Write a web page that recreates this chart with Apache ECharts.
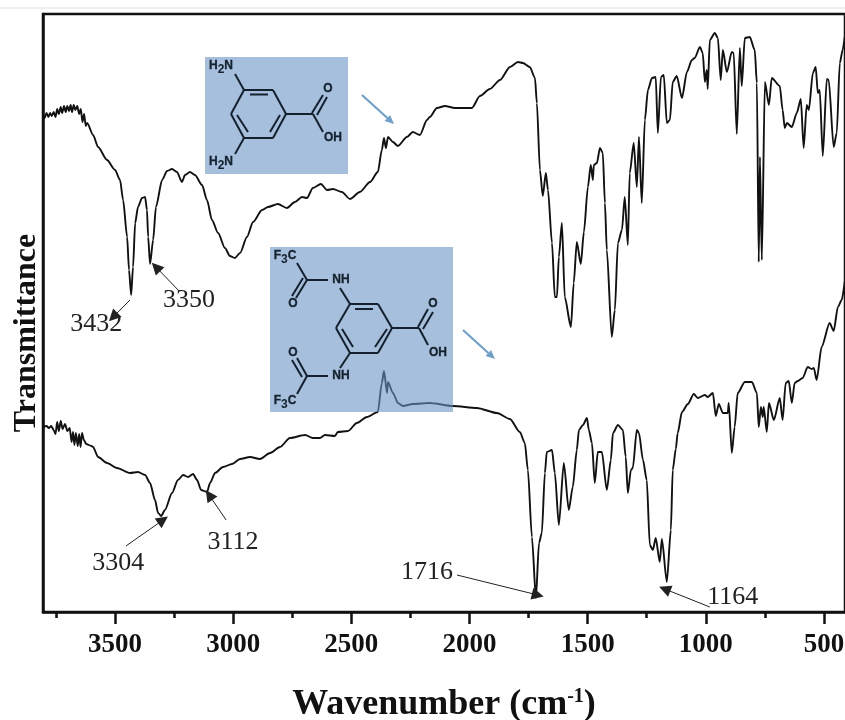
<!DOCTYPE html>
<html><head><meta charset="utf-8">
<style>html,body{margin:0;padding:0;background:#fff}#c{width:845px;height:720px}</style>
<script src="https://cdn.jsdelivr.net/npm/echarts@6/dist/echarts.min.js"></script>
</head><body><div id="c"></div>
<script>
// Wavenumber (cm-1) and relative transmittance
const topWave = [3805,3798,3790,3782,3775,3768,3760,3752,3745,3738,3730,3724,3716,3709,3702,3695,3688,3682,3675,3668,3660,3652,3645,3638,3631,3624,3618,3593,3572,3534,3500,3479,3466,3449,3441,3432,3424,3415,3403,3386,3373,3365,3360,3352,3339,3327,3301,3280,3259,3238,3217,3204,3183,3162,3132,3111,3090,3064,3035,3014,2993,2971,2942,2916,2878,2853,2811,2773,2739,2709,2688,2663,2629,2603,2578,2540,2506,2464,2421,2388,2371,2362,2354,2345,2324,2303,2265,2240,2210,2180,2168,2138,2104,2062,1990,1956,1914,1871,1829,1795,1774,1745,1723,1715,1702,1690,1677,1668,1651,1639,1630,1622,1609,1597,1571,1559,1546,1529,1516,1499,1487,1478,1474,1461,1448,1436,1427,1419,1398,1385,1372,1355,1343,1330,1322,1305,1292,1283,1271,1258,1245,1228,1212,1203,1190,1178,1165,1152,1140,1123,1101,1080,1059,1047,1025,1013,1004,996,992,983,962,949,937,928,911,890,882,869,856,848,835,814,793,784,776,771,763,750,733,721,687,675,666,657,636,615,598,586,573,564,547,535,526,518,505,488,480,459,446,433,421,411];
const topT = [498,494,499,495,499,496,500,495,503,498,505,499,506,500,506,501,507,500,507,502,506,498,503,490,498,486,489,477,465,452,442,432,412,375,342,317,345,389,405,414,415,402,375,348,372,405,432,441,443,440,430,437,440,437,427,412,392,379,364,356,354,359,375,390,402,405,408,404,410,415,414,424,428,422,423,420,413,420,430,440,462,474,464,475,470,466,475,480,477,492,495,504,506,504,504,516,523,532,545,550,549,545,534,509,442,416,439,422,369,315,315,355,389,315,285,329,370,348,380,425,447,432,447,449,464,459,409,362,275,302,369,382,415,367,439,469,425,475,409,492,522,534,535,479,535,537,489,492,530,536,514,540,552,554,565,559,530,542,523,572,579,574,532,562,540,560,559,478,564,526,574,575,562,529,350,455,352,530,507,534,526,502,484,489,485,499,513,464,507,502,539,545,519,522,456,533,532,465,479,549,562,577];
const bottomWave = [3805,3790,3780,3770,3760,3752,3745,3738,3730,3722,3712,3702,3692,3684,3678,3672,3666,3658,3652,3646,3640,3632,3622,3600,3593,3572,3534,3492,3437,3403,3373,3352,3331,3318,3305,3289,3259,3234,3212,3191,3170,3153,3136,3111,3098,3077,3043,3005,2971,2929,2887,2844,2802,2760,2696,2663,2633,2612,2570,2557,2514,2477,2434,2388,2371,2362,2349,2345,2324,2303,2282,2240,2168,2070,1969,1884,1829,1787,1766,1753,1736,1719,1706,1694,1681,1673,1651,1639,1622,1601,1580,1563,1546,1537,1520,1503,1495,1482,1470,1457,1440,1419,1402,1393,1372,1351,1339,1330,1317,1309,1292,1283,1266,1250,1237,1224,1212,1195,1186,1165,1148,1140,1127,1119,1101,1076,1051,1034,1004,992,970,958,945,928,907,903,890,878,865,835,805,784,776,767,759,755,742,733,712,687,675,662,649,636,624,611,590,569,552,543,531,510,476,459,441,425,411];
const bottomT = [185,186,184,186,182,178,190,181,191,183,188,181,184,170,180,167,179,166,178,165,179,172,168,166,165,155,149,144,139,140,137,129,112,99,96,102,119,132,137,135,138,132,122,120,129,139,145,148,153,155,153,159,165,174,177,174,174,177,176,180,181,189,195,200,229,241,219,230,219,209,206,208,209,206,204,199,193,180,169,142,75,14,69,79,139,160,162,139,87,149,102,125,162,182,187,194,182,169,129,160,160,122,152,179,187,182,155,119,142,144,182,179,152,132,67,62,74,50,73,30,82,142,163,179,200,208,218,214,217,215,219,196,208,199,199,209,159,185,219,230,230,219,185,205,195,205,180,209,192,214,192,229,231,209,229,231,234,245,243,244,232,265,289,281,305,312,332];
const majorTicks = [3500,3000,2500,2000,1500,1000,500];
const minorTicks = [3750,3250,2750,2250,1750,1250,750];
const peakLabels = ['3432','3350','3304','3112','1716','1164'];
const peakTextWave = [3580,3187,3487,3001,2180,886];
const peakTextT = [288,312,49,70,40,15];
const arrowTipWave = [3508,3327,3297,3102,1711,1174];
const arrowTipT = [295,345,92,117,17,23];
const arrowTailWave = [3437,3229,3454,3030,2053,983];
const arrowTailT = [312,321,66,92,37,5];

const serif = '"Liberation Serif","Times New Roman",serif';
const sans = '"Liberation Sans",Arial,sans-serif';
const zip = (a, b) => a.map((v, i) => [v, b[i]]);

const INK = '#14202c', Z = 20;
function seg(x1, y1, x2, y2, w) {
  return {type:'line', z:Z+1, silent:true, shape:{x1,y1,x2,y2}, style:{stroke:INK, lineWidth:w||2}};
}
function txt(x, y, t) {
  return {type:'text', z:Z+1, silent:true, x, y, style:{
    text:t, fill:INK, font:`bold 15px ${sans}`, align:'center', verticalAlign:'middle',
    rich:{a:{fill:INK,font:`15px ${sans}`,fontWeight:'bold',stroke:INK,lineWidth:0.3},s:{fill:INK,font:`10px ${sans}`,fontWeight:'bold',padding:[7,0,0,0]}}
  }};
}
function panel(x, y, w, h) {
  return {type:'rect', z:Z, silent:true, shape:{x,y,width:w,height:h}, style:{fill:'rgba(107,148,198,0.6)'}};
}
function blueArrow(x1, y1, x2, y2) {
  const a = Math.atan2(y2-y1, x2-x1), L = 9, W = 4;
  const bx = x2-L*Math.cos(a), by = y2-L*Math.sin(a);
  return [
    {type:'line', z:Z, silent:true, shape:{x1,y1,x2:bx,y2:by}, style:{stroke:'#6f9fcb',lineWidth:2.2}},
    {type:'polygon', z:Z, silent:true, shape:{points:[[x2,y2],[bx+W*Math.sin(a),by-W*Math.cos(a)],[bx-W*Math.sin(a),by+W*Math.cos(a)]]}, style:{fill:'#6f9fcb'}}
  ];
}
const g = [
  {type:'line', z:Z, silent:true, shape:{x1:0,y1:8,x2:845,y2:8}, style:{stroke:'#dddddd',lineWidth:1}},
  panel(205,57,143,117),
  // 3,5-diaminobenzoic acid
  seg(244,90,273,90),seg(273,90,286,114),seg(286,114,273,138),seg(273,138,244,138),seg(244,138,231,114),seg(231,114,244,90),
  seg(250,94.5,268,94.5),seg(280,115,270,132),seg(237,115,248,132),
  seg(244,90,235,74),seg(244,138,235,154),seg(286,114,313,114),
  seg(312,113,323,95),seg(317,115,327,97),seg(313,114,323,132),
  txt(221,66,'{a|H}{s|2}{a|N}'),txt(221,162,'{a|H}{s|2}{a|N}'),txt(328,89,'{a|O}'),txt(333,138,'{a|OH}'),
  ...blueArrow(362,95,394,124),
  panel(270,247,183,165),
  seg(350,304,378,304),seg(378,304,392,328),seg(392,328,378,353),seg(378,353,350,353),seg(350,353,336,328),seg(336,328,350,304),
  seg(355,309,373,309),seg(387,329,375,347),seg(342,329,353,347),
  seg(350,304,340,288),seg(350,353,340,368),seg(392,328,419,328),
  seg(418,327,428,309),seg(423,329,433,312),seg(419,328,428,345),
  seg(328,280,307,280),seg(307,280,297,263),seg(307,280,296,298),seg(303,278,292,296),
  seg(328,376,307,376),seg(307,376,297,358),seg(302,377,292,360),seg(307,376,297,394),
  txt(285,256,'{a|F}{s|3}{a|C}'),txt(285,401,'{a|F}{s|3}{a|C}'),txt(293,304,'{a|O}'),txt(293,353,'{a|O}'),
  txt(341,280,'{a|NH}'),txt(341,376,'{a|NH}'),txt(433,304,'{a|O}'),txt(438,353,'{a|OH}'),
  ...blueArrow(463,330,495,359)
];

const curveStyle = {color:'#111',width:1.9,join:'round'};
const chart = echarts.init(document.getElementById('c'), null, {renderer:'canvas'});
chart.setOption({
  animation:false,
  backgroundColor:'#fff',
  grid:{left:43,right:0,top:14,bottom:108,show:true,borderColor:'#111',borderWidth:2.5,backgroundColor:'transparent',containLabel:false,outerBoundsMode:'none'},
  xAxis:[{
    type:'value',min:411,max:3805,inverse:true,position:'bottom',splitLine:{show:false},
    axisLine:{show:true,onZero:false,lineStyle:{color:'#111',width:2.5}},
    axisTick:{show:true,length:12,inside:false,customValues:majorTicks,lineStyle:{color:'#111',width:2.5}},
    axisLabel:{show:true,customValues:majorTicks,formatter:v=>String(v),margin:20,fontFamily:serif,fontWeight:'bold',fontSize:27,color:'#111',hideOverlap:false},
    name:'Wavenumber (cm{s|-1})',nameLocation:'center',nameGap:75,
    nameTextStyle:{fontFamily:serif,fontWeight:'bold',fontSize:36,color:'#111',rich:{s:{fontFamily:serif,fontWeight:'bold',fontSize:20,color:'#111',verticalAlign:'top',padding:[0,0,14,0]}}}
  },{
    type:'value',min:411,max:3805,inverse:true,position:'bottom',splitLine:{show:false},
    axisLine:{show:false,onZero:false},
    axisTick:{show:true,length:6,customValues:minorTicks,lineStyle:{color:'#111',width:2.5}},
    axisLabel:{show:false}
  }],
  yAxis:{
    type:'value',min:0,max:598,splitLine:{show:false},
    axisLine:{show:true,lineStyle:{color:'#111',width:2.5}},axisTick:{show:false},axisLabel:{show:false},
    name:'Transmittance',nameLocation:'center',nameRotate:90,nameGap:0,
    nameTextStyle:{fontFamily:serif,fontWeight:'bold',fontSize:32,color:'#111',padding:[0,40,0,0]}
  },
  graphic:{elements:g},
  series:[
    {name:'3,5-diaminobenzoic acid',type:'line',showSymbol:false,symbol:'none',smooth:0.25,smoothMonotone:'x',z:3,data:zip(topWave,topT),lineStyle:curveStyle},
    {name:'amide',type:'line',showSymbol:false,symbol:'none',smooth:0.25,smoothMonotone:'x',z:3,data:zip(bottomWave,bottomT),lineStyle:curveStyle},
    {name:'peaks',type:'scatter',symbol:'circle',symbolSize:1,z:4,itemStyle:{color:'transparent'},
      data:peakLabels.map((t,i)=>[peakTextWave[i],peakTextT[i],t]),
      label:{show:true,position:'inside',formatter:p=>p.data[2],fontFamily:serif,fontSize:26,color:'#222',opacity:1},
      markLine:{silent:true,symbol:['none','triangle'],symbolSize:12,animation:false,label:{show:false},
        lineStyle:{color:'#222',width:1,type:'solid'},
        data:peakLabels.map((t,i)=>[{coord:[arrowTailWave[i],arrowTailT[i]]},{coord:[arrowTipWave[i],arrowTipT[i]]}])}
    }
  ]
});
</script></body></html>
